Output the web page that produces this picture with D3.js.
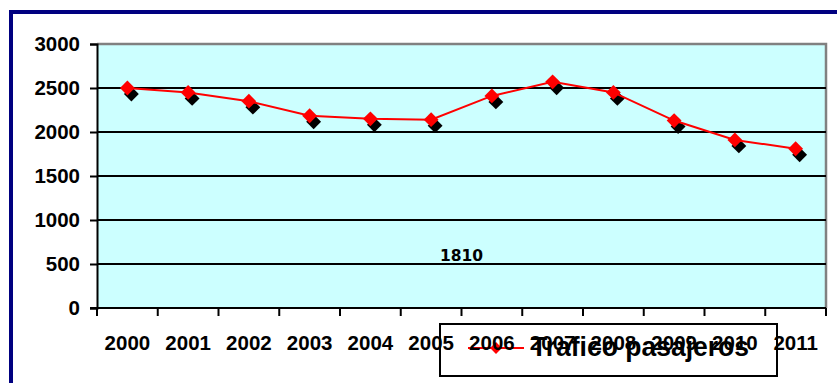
<!DOCTYPE html>
<html>
<head>
<meta charset="utf-8">
<script src="https://cdn.jsdelivr.net/npm/d3@7"></script>
<style>
  body { margin: 0; background: #fff; }
  svg { display: block; }
</style>
</head>
<body>
<svg id="chart" width="837" height="383"></svg>
<script>
    const years = ["2000", "2001", "2002", "2003", "2004", "2005", "2006", "2007", "2008", "2009", "2010", "2011"]
    const trafico = [2500, 2450, 2350, 2185, 2150, 2140, 2410, 2570, 2450, 2130, 1910, 1810]
    const yTicks = [0, 500, 1000, 1500, 2000, 2500, 3000]
    const seriesName = "Trafico pasajeros"
    const strayLabel = "1810"

    let width = 837, height = 383
    let margin = { top: 44, right: 11, bottom: 75, left: 97 }

    let svg = d3.select("#chart")

    // navy frame (only top and left show in the picture)
    svg.append("line")
        .attr("x1", 9).attr("x2", width).attr("y1", 12).attr("y2", 12)
        .attr("stroke", "#000080").attr("stroke-width", 4)
    svg.append("line")
        .attr("x1", 11).attr("x2", 11).attr("y1", 10).attr("y2", height)
        .attr("stroke", "#000080").attr("stroke-width", 4)

    let xScale = d3.scaleBand()
        .domain(years)
        .range([margin.left, width - margin.right])
        .padding(0)

    let yScale = d3.scaleLinear()
        .domain([0, 3000])
        .range([height - margin.bottom, margin.top])

    let plotW = xScale.range()[1] - xScale.range()[0]
    let plotH = yScale(0) - yScale(3000)

    let plot = svg.append("g")

    plot.append("rect")
        .attr("x", margin.left).attr("y", margin.top)
        .attr("width", plotW).attr("height", plotH)
        .attr("fill", "#CCFFFF")

    // top + right border in gray
    plot.append("path")
        .attr("d", `M${margin.left},${margin.top}H${margin.left + plotW}V${yScale(0)}`)
        .attr("fill", "none")
        .attr("stroke", "#808080")
        .attr("stroke-width", 2.5)

    plot.selectAll(".grid")
        .data(yTicks.filter(d => d > 0 && d < 3000))
        .enter()
        .append("line")
        .attr("class", "grid")
        .attr("x1", margin.left).attr("x2", margin.left + plotW)
        .attr("y1", d => yScale(d)).attr("y2", d => yScale(d))
        .attr("stroke", "#000")
        .attr("stroke-width", 2)

    let yAxis = svg.append("g")
        .attr("transform", `translate(${margin.left},0)`)
        .call(d3.axisLeft(yScale).tickValues(yTicks).tickFormat(d3.format("d")).tickSize(7).tickPadding(10))
    yAxis.select(".domain").attr("stroke", "#000").attr("stroke-width", 2)
    yAxis.selectAll(".tick line").attr("stroke", "#000").attr("stroke-width", 2)
    yAxis.selectAll(".tick text")
        .attr("fill", "#000")
        .attr("font-family", "Liberation Sans, Arial, sans-serif")
        .attr("font-weight", "bold")
        .attr("font-size", 20.5)

    // legend box (drawn before the x labels, which overlap it)
    let legend = svg.append("g")
    legend.append("rect")
        .attr("x", 440).attr("y", 324)
        .attr("width", 337).attr("height", 52)
        .attr("fill", "#fff")
        .attr("stroke", "#000")
        .attr("stroke-width", 2)
    legend.append("line")
        .attr("x1", 468).attr("x2", 524).attr("y1", 348).attr("y2", 348)
        .attr("stroke", "#FF0000").attr("stroke-width", 2)
    legend.append("path")
        .attr("d", d3.symbol(d3.symbolSquare, 70)())
        .attr("transform", "translate(496,348) rotate(45)")
        .attr("fill", "#FF0000")
    legend.append("text")
        .attr("x", 531).attr("y", 356)
        .attr("font-family", "Liberation Sans, Arial, sans-serif")
        .attr("font-weight", "bold")
        .attr("font-size", 27)
        .attr("textLength", 218)
        .attr("lengthAdjust", "spacingAndGlyphs")
        .attr("fill", "#000")
        .text(seriesName)

    let xAxis = svg.append("g")
        .attr("transform", `translate(0,${yScale(0)})`)
        .call(d3.axisBottom(xScale).tickSize(0).tickPadding(27))
    xAxis.select(".domain").remove()
    xAxis.append("line")
        .attr("x1", margin.left - 7).attr("x2", margin.left + plotW)
        .attr("stroke", "#000").attr("stroke-width", 2)
    xAxis.selectAll(".band-tick")
        .data(years.concat([null]))
        .enter()
        .append("line")
        .attr("class", "band-tick")
        .attr("x1", (d, i) => margin.left + i * xScale.step())
        .attr("x2", (d, i) => margin.left + i * xScale.step())
        .attr("y1", 0).attr("y2", 8)
        .attr("stroke", "#000").attr("stroke-width", 2)
    xAxis.selectAll(".tick text")
        .attr("fill", "#000")
        .attr("font-family", "Liberation Sans, Arial, sans-serif")
        .attr("font-weight", "bold")
        .attr("font-size", 20.5)

    let cx = d => xScale(d) + xScale.bandwidth() / 2
    let diamond = d3.symbol(d3.symbolSquare, 110)()

    let series = svg.append("g")
    series.selectAll(".shadow")
        .data(years)
        .enter()
        .append("path")
        .attr("class", "shadow")
        .attr("d", diamond)
        .attr("transform", (d, i) => `translate(${cx(d) + 4},${yScale(trafico[i]) + 6}) rotate(45)`)
        .attr("fill", "#000")

    series.append("path")
        .datum(trafico)
        .attr("d", d3.line().x((d, i) => cx(years[i])).y(d => yScale(d)))
        .attr("fill", "none")
        .attr("stroke", "#FF0000")
        .attr("stroke-width", 2)

    series.selectAll(".marker")
        .data(years)
        .enter()
        .append("path")
        .attr("class", "marker")
        .attr("d", diamond)
        .attr("transform", (d, i) => `translate(${cx(d)},${yScale(trafico[i])}) rotate(45)`)
        .attr("fill", "#FF0000")

    // stray data label sitting over the plot
    svg.append("text")
        .attr("x", xScale("2006"))
        .attr("y", yScale(530))
        .attr("text-anchor", "middle")
        .attr("font-family", "DejaVu Sans, sans-serif")
        .attr("font-weight", "bold")
        .attr("font-size", 15.5)
        .attr("fill", "#000")
        .text(strayLabel)
</script>
</body>
</html>
